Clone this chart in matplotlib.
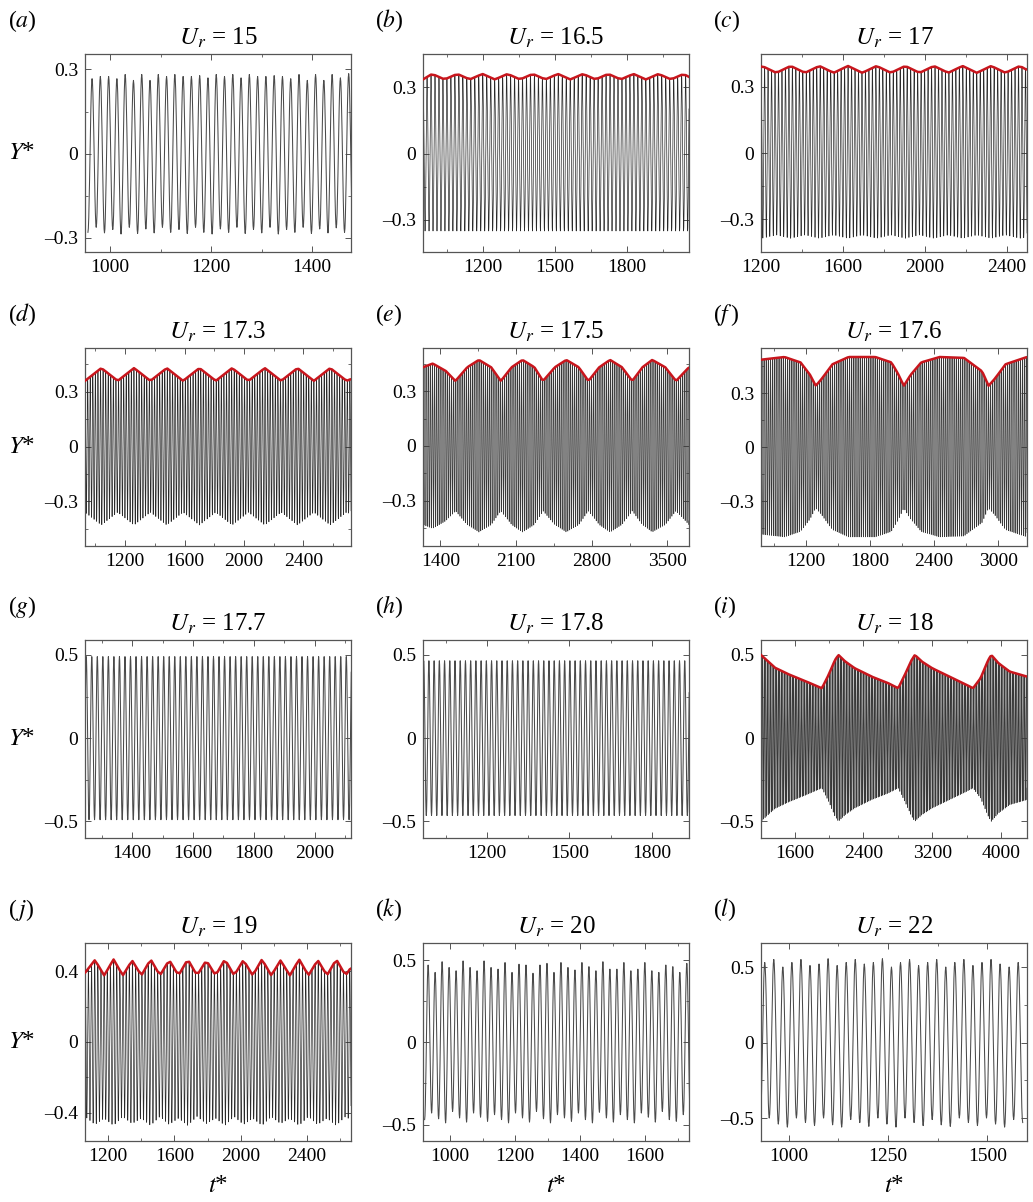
import numpy as np
import matplotlib
matplotlib.use("Agg")
import matplotlib.pyplot as plt
from matplotlib.ticker import MultipleLocator

plt.rcParams['font.family'] = ['Liberation Serif', 'DejaVu Serif']
plt.rcParams['mathtext.fontset'] = 'stix'

# ---- data ----
tags = ['a', 'b', 'c', 'd', 'e', 'f', 'g', 'h', 'i', 'j', 'k', 'l']
ur_values = ['15', '16.5', '17', '17.3', '17.5', '17.6', '17.7', '17.8', '18', '19', '20', '22']

# oscillation period (t*) and time of first trough, per panel
periods = [16.4, 16.6, 17.0, 17.3, 17.5, 17.6, 18.2, 19.0, 18.0, 19.0, 21.5, 22.8]
first_trough = [955.8, 942.0, 1192.0, 922.0, 1232.0, 772.0, 1240.0, 960.0, 1203.0, 1052.0, 922.0, 928.0]

# panel (a): peak / trough values cycle by cycle
a_peaks = [0.267, 0.275, 0.275, 0.267, 0.282, 0.261, 0.282, 0.261, 0.282, 0.275, 0.282, 0.275,
           0.275, 0.278, 0.270, 0.282, 0.275, 0.282, 0.270, 0.282, 0.275, 0.275, 0.278, 0.275,
           0.267, 0.282, 0.261, 0.282, 0.261, 0.282, 0.270, 0.285]
a_troughs = [-0.280, -0.262, -0.282, -0.270, -0.286, -0.262, -0.284, -0.268, -0.282, -0.262, -0.280,
             -0.270, -0.284, -0.262, -0.280, -0.286, -0.268, -0.280, -0.262, -0.284, -0.270, -0.282,
             -0.262, -0.286, -0.270, -0.280, -0.262, -0.284, -0.268, -0.282, -0.264, -0.280, -0.270]

# panel (k)
k_peaks = [0.47, 0.425, 0.49, 0.455, 0.435, 0.495, 0.455, 0.435, 0.495, 0.455, 0.445, 0.485,
           0.425, 0.475, 0.47, 0.42, 0.47, 0.48, 0.425, 0.485, 0.455, 0.44, 0.485, 0.46,
           0.435, 0.49, 0.445, 0.445, 0.485, 0.435, 0.445, 0.485, 0.435, 0.425, 0.47, 0.46,
           0.425, 0.48]
k_troughs = [-0.47, -0.43, -0.465, -0.49, -0.42, -0.46, -0.485, -0.43, -0.455, -0.48, -0.44, -0.47,
             -0.49, -0.43, -0.46, -0.485, -0.42, -0.465, -0.49, -0.44, -0.46, -0.48, -0.43, -0.47,
             -0.49, -0.425, -0.46, -0.485, -0.44, -0.47, -0.49, -0.43, -0.455, -0.485, -0.42, -0.47,
             -0.48, -0.44, -0.46]

# panel (l)
l_peaks = [0.53, 0.55, 0.50, 0.53, 0.55, 0.51, 0.52, 0.555, 0.51, 0.53, 0.55, 0.52,
           0.53, 0.555, 0.50, 0.53, 0.55, 0.51, 0.53, 0.55, 0.50, 0.53, 0.55, 0.51,
           0.53, 0.55, 0.52, 0.50, 0.53]
l_troughs = [-0.55, -0.50, -0.54, -0.56, -0.50, -0.53, -0.55, -0.50, -0.545, -0.56, -0.51, -0.53,
             -0.555, -0.50, -0.54, -0.56, -0.50, -0.53, -0.55, -0.51, -0.545, -0.555, -0.50, -0.53,
             -0.55, -0.50, -0.54, -0.56, -0.51, -0.53]

# constant amplitude panels
g_amp = 0.49
h_amp = 0.465

# envelopes (red lines) : node times and upper / lower values
b_env_t = [950, 988, 1040, 1093, 1145, 1198, 1250, 1303, 1355, 1408, 1460, 1513, 1565, 1618,
           1670, 1723, 1775, 1828, 1880, 1933, 1985, 2038, 2060]
b_env_up = [0.335, 0.36, 0.335, 0.36, 0.335, 0.36, 0.335, 0.36, 0.335, 0.36, 0.335, 0.36, 0.335,
            0.36, 0.335, 0.36, 0.335, 0.36, 0.335, 0.36, 0.335, 0.36, 0.345]
b_env_lo = [-0.35] * len(b_env_t)

c_env_t = [1200, 1205, 1275, 1345, 1415, 1485, 1555, 1625, 1695, 1765, 1835, 1905, 1975, 2045,
           2115, 2185, 2255, 2325, 2395, 2465, 2500]
c_env_up = [0.39, 0.393, 0.362, 0.393, 0.362, 0.393, 0.362, 0.393, 0.362, 0.393, 0.362, 0.393,
            0.362, 0.393, 0.362, 0.393, 0.362, 0.393, 0.362, 0.393, 0.375]
c_env_lo = [-0.385, -0.385, -0.37, -0.385, -0.37, -0.385, -0.37, -0.385, -0.37, -0.385, -0.37,
            -0.385, -0.37, -0.385, -0.37, -0.385, -0.37, -0.385, -0.37, -0.385, -0.38]

d_env_t = [930, 1040, 1150, 1260, 1370, 1480, 1590, 1700, 1810, 1920, 2030, 2140, 2250, 2360,
           2470, 2580, 2690, 2720]
d_env_up = [0.36, 0.43, 0.36, 0.43, 0.36, 0.43, 0.36, 0.43, 0.36, 0.43, 0.36, 0.43, 0.36, 0.43,
            0.36, 0.43, 0.36, 0.37]

e_env_t = [1240, 1330, 1450, 1540, 1650, 1757, 1870, 1960, 2060, 2160, 2270, 2350, 2460, 2565,
           2680, 2770, 2870, 2970, 3080, 3175, 3270, 3360, 3480, 3580, 3700]
e_env_up = [0.43, 0.45, 0.41, 0.355, 0.43, 0.47, 0.43, 0.355, 0.43, 0.47, 0.43, 0.355, 0.43,
            0.47, 0.43, 0.355, 0.43, 0.47, 0.43, 0.355, 0.43, 0.47, 0.43, 0.355, 0.43]

f_env_t = [780, 1000, 1150, 1240, 1293, 1350, 1450, 1600, 1850, 2000, 2060, 2117, 2180, 2280,
           2450, 2680, 2850, 2910, 2970, 3070, 3270]
f_env_up = [0.485, 0.50, 0.47, 0.40, 0.34, 0.38, 0.46, 0.50, 0.50, 0.47, 0.41, 0.34, 0.40, 0.47,
            0.50, 0.495, 0.42, 0.34, 0.38, 0.46, 0.50]

i_env_t = [1210, 1370, 1530, 1720, 1917, 1995, 2070, 2110, 2190, 2300, 2495, 2690, 2804, 2880,
           2960, 2997, 3080, 3200, 3400, 3600, 3673, 3760, 3850, 3885, 3970, 4100, 4300]
i_env_up = [0.50, 0.424, 0.384, 0.344, 0.30, 0.38, 0.47, 0.50, 0.46, 0.42, 0.37, 0.33, 0.30, 0.38,
            0.47, 0.50, 0.46, 0.42, 0.37, 0.32, 0.30, 0.36, 0.47, 0.50, 0.45, 0.40, 0.37]

j_env_t = [1060, 1120, 1176, 1232, 1288, 1344, 1400, 1456, 1512, 1568, 1624, 1680, 1736, 1792,
           1848, 1904, 1960, 2016, 2072, 2128, 2184, 2240, 2296, 2352, 2408, 2464, 2520, 2576,
           2632, 2665]
j_env_up = [0.39, 0.462, 0.375, 0.466, 0.375, 0.46, 0.375, 0.466, 0.375, 0.462, 0.375, 0.466,
            0.375, 0.46, 0.375, 0.466, 0.375, 0.462, 0.375, 0.466, 0.375, 0.46, 0.375, 0.466,
            0.375, 0.462, 0.375, 0.466, 0.375, 0.42]
j_env_lo = [-0.42, -0.465, -0.43, -0.47, -0.42, -0.46, -0.43, -0.47, -0.42, -0.465, -0.43, -0.47,
            -0.42, -0.46, -0.43, -0.47, -0.42, -0.465, -0.43, -0.47, -0.42, -0.46, -0.43, -0.47,
            -0.42, -0.465, -0.43, -0.47, -0.42, -0.44]

# ---- axes settings ----
xlims = [(950, 1477), (950, 2060), (1200, 2500), (930, 2720), (1240, 3700), (780, 3270),
         (1245, 2120), (967, 1935), (1210, 4300), (1060, 2665), (917, 1735), (930, 1600)]
xsteps = [200, 300, 400, 400, 700, 600, 200, 300, 800, 400, 200, 250]
ylims = [(-0.35, 0.355), (-0.445, 0.45), (-0.447, 0.447), (-0.545, 0.54), (-0.546, 0.535),
         (-0.55, 0.55), (-0.6, 0.59), (-0.6, 0.59), (-0.6, 0.59), (-0.558, 0.558), (-0.6, 0.604),
         (-0.652, 0.659)]
ysteps = [0.3, 0.3, 0.3, 0.3, 0.3, 0.3, 0.5, 0.5, 0.5, 0.4, 0.5, 0.5]


def sweep(t0, T, highs, lows, nsub=10):
    # join alternating troughs / peaks with half-cosine arcs
    vals = []
    for k in range(len(lows)):
        vals.append(lows[k])
        if k < len(highs):
            vals.append(highs[k])
    vals = np.array(vals)
    times = t0 + np.arange(len(vals)) * T / 2
    s = np.linspace(0, 1, nsub, endpoint=False)
    tt, yy = [], []
    for k in range(len(vals) - 1):
        a, b = vals[k], vals[k + 1]
        tt.append(times[k] + s * (times[k + 1] - times[k]))
        yy.append((a + b) / 2 + (a - b) / 2 * np.cos(np.pi * s))
    tt.append([times[-1]])
    yy.append([vals[-1]])
    return np.concatenate(tt), np.concatenate(yy)


def env_sweep(t0, T, tmax, env_t, up, lo):
    n = int((tmax - t0) / T) + 2
    tl = t0 + np.arange(n) * T
    th = tl + T / 2
    highs = np.interp(th, env_t, up)
    lows = np.interp(tl, env_t, lo)
    return sweep(t0, T, highs, lows), th, highs


def neg(v):
    return [-x for x in v]


W, H = 1033, 1202
fig = plt.figure(figsize=(W / 100, H / 100), dpi=100)
col_left = [85, 423, 761]
row_top = [54, 348, 640, 943]
aw, ah = 266, 198

envs = {
    'b': (b_env_t, b_env_up, b_env_lo),
    'c': (c_env_t, c_env_up, c_env_lo),
    'd': (d_env_t, d_env_up, neg(d_env_up)),
    'e': (e_env_t, e_env_up, neg(e_env_up)),
    'f': (f_env_t, f_env_up, neg(f_env_up)),
    'i': (i_env_t, i_env_up, neg(i_env_up)),
    'j': (j_env_t, j_env_up, j_env_lo),
}

for idx, tag in enumerate(tags):
    r, c = divmod(idx, 3)
    x0, y0 = col_left[c], row_top[r]
    ax = fig.add_axes([x0 / W, 1 - (y0 + ah) / H, aw / W, ah / H])
    T, t0 = periods[idx], first_trough[idx]
    tmax = xlims[idx][1]
    # cycles per pixel decides how heavy the trace should be
    density = (xlims[idx][1] - xlims[idx][0]) / T / aw

    if tag in envs:
        et, eu, el = envs[tag]
        (tt, yy), th, highs = env_sweep(t0, T, tmax, et, eu, el)
        if density > 0.4:
            ax.plot(tt, yy, color='#383838', lw=0.45)
        else:
            ax.plot(tt, yy, color='#2a2a2a', lw=0.5)
        ax.plot(th, highs, color='#c8161d', lw=1.8, zorder=5)
    else:
        if tag == 'a':
            hi, lo = a_peaks, a_troughs
        elif tag == 'k':
            hi, lo = k_peaks, k_troughs
        elif tag == 'l':
            hi, lo = l_peaks, l_troughs
        else:
            n = int((tmax - t0) / T) + 2
            amp = g_amp if tag == 'g' else h_amp
            hi, lo = [amp] * n, [-amp] * (n + 1)
        tt, yy = sweep(t0, T, hi, lo)
        ax.plot(tt, yy, color='#4a4a4a', lw=0.75)

    ax.set_xlim(*xlims[idx])
    ax.set_ylim(*ylims[idx])
    ax.xaxis.set_major_locator(MultipleLocator(xsteps[idx]))
    ax.xaxis.set_minor_locator(MultipleLocator(xsteps[idx] / 2))
    ax.yaxis.set_major_locator(MultipleLocator(ysteps[idx]))
    ax.yaxis.set_minor_locator(MultipleLocator(ysteps[idx] / 2))
    ax.yaxis.set_major_formatter(plt.FuncFormatter(
        lambda v, p: '0' if abs(v) < 1e-9 else ('\u2013' + f'{abs(v):g}' if v < 0 else f'{v:g}')))
    ax.tick_params(which='both', direction='in', top=True, right=True, labelsize=14,
                   color='#555555')
    ax.tick_params(which='major', length=4, width=0.7, pad=5)
    ax.tick_params(which='minor', length=2.5, width=0.6)
    for sp in ax.spines.values():
        sp.set_color('#555555')
        sp.set_linewidth(0.9)
    ax.set_title(r'$U_r$ = ' + ur_values[idx], fontsize=18, pad=7)

    lab = r'($' + tag + '$)'
    if tag == 'f':
        lab = r'($f\,$)'
    if tag == 'j':
        lab = r'($\,j$)'
    lx = 8 if c == 0 else x0 - 48
    fig.text(lx / W, 1 - (y0 - 33) / H, lab, fontsize=17, va='center', ha='left')

    if c == 0:
        fig.text(8 / W, 1 - (y0 + ah / 2) / H, r'$Y$*', fontsize=18, va='center', ha='left')
    if r == 3:
        fig.text((x0 + aw / 2) / W, 1 - 1186 / H, r'$t$*', fontsize=18, va='center', ha='center')

fig.savefig('out.png', dpi=100)
